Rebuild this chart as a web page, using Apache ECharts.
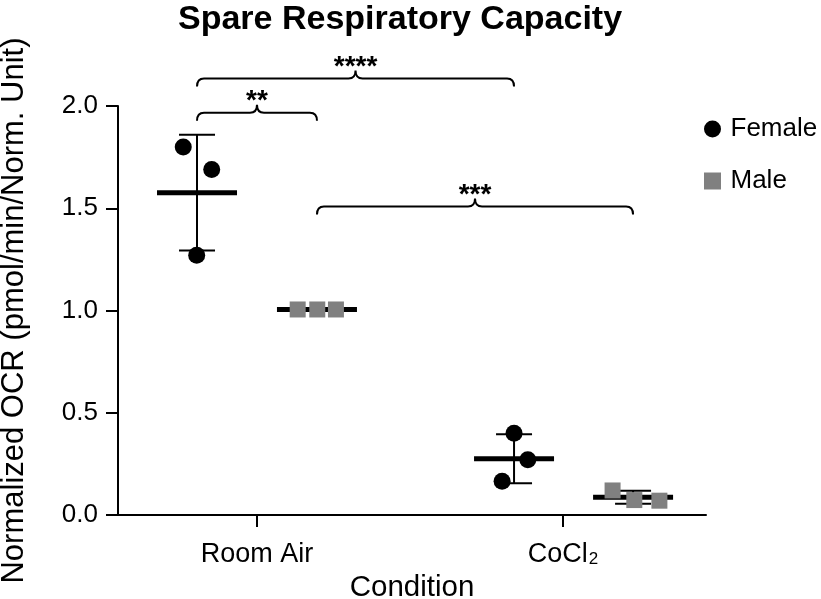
<!DOCTYPE html>
<html>
<head>
<meta charset="utf-8">
<script src="https://cdn.jsdelivr.net/npm/echarts@6/dist/echarts.min.js"></script>
<style>
  html, body { margin: 0; padding: 0; background: #fff; }
  #chart { width: 821px; height: 599px; }
</style>
</head>
<body>
<div id="chart"></div>
<script>
var FONT = '"Liberation Sans", Arial, sans-serif';

// x positions: categories sit at 1 and 2
var categories = ['Room Air', 'CoCl2'];
var categoryPos = [1, 2];
var yTicks = [0, 0.5, 1.0, 1.5, 2.0];

// individual animals
var femaleX = [0.759, 0.852, 0.803, 1.840, 1.885, 1.801];
var femaleY = [1.80, 1.69, 1.27, 0.40, 0.27, 0.165];
var maleX = [1.133, 1.197, 1.258, 2.162, 2.233, 2.315];
var maleY = [1.005, 1.005, 1.005, 0.12, 0.073, 0.07];

// group mean +- SD
var groupX = [0.804, 1.196, 1.840, 2.229];
var groupMean = [1.576, 1.005, 0.275, 0.087];
var groupSd = [0.283, 0.004, 0.12, 0.032];

// significance brackets
var bracketFrom = [0.804, 0.804, 1.196];
var bracketTo = [1.196, 1.840, 2.229];
var bracketY = [1.967, 2.135, 1.508];
var bracketLabel = ['**', '****', '***'];

function zip(a, b) {
  return a.map(function (v, i) { return [v, b[i]]; });
}

function renderStats(params, api) {
  var x = api.value(0), m = api.value(1), s = api.value(2);
  var c = api.coord([x, m]);
  var hi = api.coord([x, m + s]);
  var lo = api.coord([x, m - s]);
  var thin = { stroke: '#000', lineWidth: 2 };
  return {
    type: 'group',
    children: [
      { type: 'line', shape: { x1: c[0], y1: hi[1], x2: c[0], y2: lo[1] }, style: thin },
      { type: 'line', shape: { x1: c[0] - 18, y1: hi[1], x2: c[0] + 18, y2: hi[1] }, style: thin },
      { type: 'line', shape: { x1: c[0] - 18, y1: lo[1], x2: c[0] + 18, y2: lo[1] }, style: thin },
      { type: 'line', shape: { x1: c[0] - 40, y1: c[1], x2: c[0] + 40, y2: c[1] }, style: { stroke: '#000', lineWidth: 5 } }
    ]
  };
}

function renderBracket(params, api) {
  var a = api.coord([api.value(0), api.value(2)]);
  var b = api.coord([api.value(1), api.value(2)]);
  var y = a[1], x1 = a[0], x2 = b[0], xm = (x1 + x2) / 2;
  var d = 8, r = 7;
  var path = 'M' + x1 + ' ' + (y + d) +
    ' Q' + x1 + ' ' + y + ' ' + (x1 + r) + ' ' + y +
    ' L' + (xm - r) + ' ' + y +
    ' Q' + xm + ' ' + y + ' ' + xm + ' ' + (y - d) +
    ' Q' + xm + ' ' + y + ' ' + (xm + r) + ' ' + y +
    ' L' + (x2 - r) + ' ' + y +
    ' Q' + x2 + ' ' + y + ' ' + x2 + ' ' + (y + d);
  return {
    type: 'group',
    children: [
      { type: 'path', shape: { pathData: path }, style: { fill: 'none', stroke: '#000', lineWidth: 2 } },
      {
        type: 'text', x: xm, y: y - d - 3,
        style: {
          text: bracketLabel[params.dataIndex], fill: '#000',
          fontSize: 28, fontWeight: 'bold', fontFamily: FONT, align: 'center', verticalAlign: 'middle'
        }
      }
    ]
  };
}

var myChart = echarts.init(document.getElementById('chart'));
var option = {
  animation: false,
  backgroundColor: '#fff',
  title: {
    text: 'Spare Respiratory Capacity',
    left: 178,
    top: 3,
    padding: 0,
    textStyle: { fontSize: 34, fontWeight: 'bold', color: '#000', fontFamily: FONT }
  },
  legend: {
    data: [
      { name: 'Female', icon: 'circle' },
      { name: 'Male', icon: 'path://M0 0H10V10H0Z' }
    ],
    orient: 'vertical',
    left: 704,
    top: 116,
    padding: 0,
    itemGap: 26,
    itemWidth: 26,
    itemHeight: 17,
    symbolKeepAspect: true,
    textStyle: { fontSize: 26, color: '#000', fontFamily: FONT }
  },
  grid: {
    left: 118, right: 115, top: 106, bottom: 84,
    outerBoundsMode: 'none'
  },
  xAxis: {
    type: 'value',
    min: 0.5458,
    max: 2.4673,
    name: 'Condition',
    nameLocation: 'middle',
    nameGap: 53,
    nameTextStyle: { fontSize: 29.5, color: '#000', fontFamily: FONT },
    splitLine: { show: false },
    axisLine: { show: true, lineStyle: { color: '#000', width: 2 } },
    axisTick: { show: true, length: 12, customValues: categoryPos, lineStyle: { color: '#000', width: 2 } },
    axisLabel: {
      customValues: categoryPos,
      margin: 26,
      fontSize: 27,
      color: '#000',
      fontFamily: FONT,
      formatter: function (v) {
        var name = categories[categoryPos.indexOf(v)] || '';
        return name.replace(/(\d)$/, '{sub|$1}');
      },
      rich: {
        sub: { fontSize: 17, color: '#000', fontFamily: FONT, verticalAlign: 'bottom', lineHeight: 15, padding: [0, 0, 0, 1] }
      }
    }
  },
  yAxis: {
    type: 'value',
    min: 0,
    max: 2,
    interval: 0.5,
    name: 'Normalized OCR (pmol/min/Norm. Unit)',
    nameLocation: 'middle',
    nameGap: 88,
    nameTextStyle: { fontSize: 31, color: '#000', fontFamily: FONT },
    splitLine: { show: false },
    axisLine: { show: true, lineStyle: { color: '#000', width: 2 } },
    axisTick: { show: true, length: 12, lineStyle: { color: '#000', width: 2 } },
    axisLabel: {
      margin: 20,
      fontSize: 26,
      color: '#000',
      fontFamily: FONT,
      formatter: function (v) { return v.toFixed(1); }
    }
  },
  series: [
    {
      name: 'stats',
      type: 'custom',
      renderItem: renderStats,
      encode: { x: 0, y: 1 },
      data: groupX.map(function (x, i) { return [x, groupMean[i], groupSd[i]]; }),
      z: 2
    },
    {
      name: 'brackets',
      type: 'custom',
      renderItem: renderBracket,
      clip: false,
      encode: { x: [0, 1], y: 2 },
      data: bracketFrom.map(function (x, i) { return [x, bracketTo[i], bracketY[i]]; }),
      z: 2
    },
    {
      name: 'Female',
      type: 'scatter',
      symbol: 'circle',
      symbolSize: 17,
      itemStyle: { color: '#000', opacity: 1 },
      data: zip(femaleX, femaleY),
      z: 3
    },
    {
      name: 'Male',
      type: 'scatter',
      symbol: 'rect',
      symbolSize: 16,
      itemStyle: { color: '#808080', opacity: 1 },
      data: zip(maleX, maleY),
      z: 3
    }
  ]
};
myChart.setOption(option);
</script>
</body>
</html>
